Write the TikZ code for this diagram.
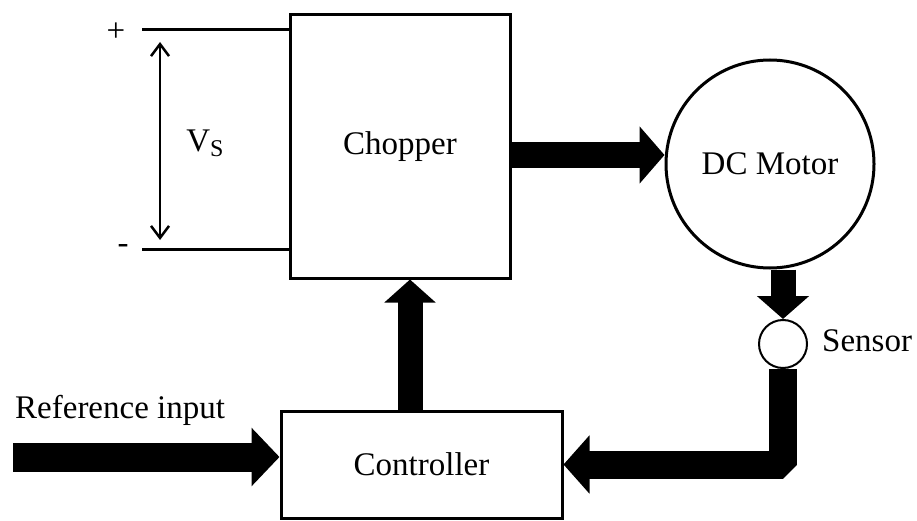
\documentclass[tikz,border=0pt]{standalone}
\usepackage{fontspec}
\setmainfont{Liberation Serif}
\usetikzlibrary{arrows.meta}

\begin{document}
\begin{tikzpicture}[x = 1pt, y = -1pt, font = \fontsize{33}{36}\selectfont,
	block/.style = {draw = black, fill = white, line width = 3pt, inner sep = 0pt},
	txt/.style = {inner sep = 0pt},
	bigarrow/.style = {line width = 26pt, line join = bevel, -{Triangle[length = 25pt, width = 56pt]}}]
	
		\useasboundingbox (0, 0) rectangle (917, 521);
		
		\node[block, minimum width = 220pt, minimum height = 263pt] (chopper) at (400, 146.5) {Chopper};
		\node[block, minimum width = 281pt, minimum height = 107pt] (controller) at (421.5, 464.5) {Controller};
		\node[draw, circle, line width = 3pt, minimum size = 208pt, inner sep = 0pt] (motor) at (770, 164) {DC Motor};
		\node[draw, circle, line width = 2pt, minimum size = 48pt, inner sep = 0pt] (sensor) at (783, 344) {};
		
		\coordinate (plus) at (142, 30);
		\coordinate (minus) at (142, 249);
		\coordinate (vtop) at (160, 42);
		\coordinate (vbot) at (160, 240);
		\coordinate (refin) at (13, 457);
		\coordinate (up) at (410, 0);
		\coordinate (out) at (0, 155);
		
		\draw[line width = 3pt] (plus) -- (plus -| chopper.west);
		\draw[line width = 3pt] (minus) -- (minus -| chopper.west);
		\draw[line width = 2.5pt, {Straight Barb[length = 12pt, width = 18pt]}-{Straight Barb[length = 12pt, width = 18pt]}] (vtop) -- (vbot);
		
		\node[txt] (plussign) at (116, 32) {+};
		\node[txt] (minussign) at (123, 249) {-};
		\node[txt] (vs) at (205, 143) {V\raisebox{-0.35ex}{\fontsize{24}{24}\selectfont S}};
		
		% power flow and feedback
		\draw[bigarrow] (chopper.east |- out) -- (motor.west |- out);
		\draw[bigarrow, line width = 25pt, -{Triangle[length = 23pt, width = 51pt]}] (sensor.north |- motor.south) -- (sensor.north);
		\draw[bigarrow, line width = 28pt, -{Triangle[length = 26pt, width = 57pt]}] (sensor.south) |- (controller.east);
		\draw[bigarrow, line width = 25pt, -{Triangle[length = 23pt, width = 50pt]}] (controller.north -| up) -- (chopper.south -| up);
		\draw[bigarrow, line width = 29pt, -{Triangle[length = 28pt, width = 57pt]}] (refin) -- (refin -| controller.west);
		
		\node[txt, anchor = base west] (reflabel) at (15, 418) {Reference input};
		\node[txt, anchor = base west] (sensorlabel) at (822, 351) {Sensor};
	
	\end{tikzpicture}
\end{document}
